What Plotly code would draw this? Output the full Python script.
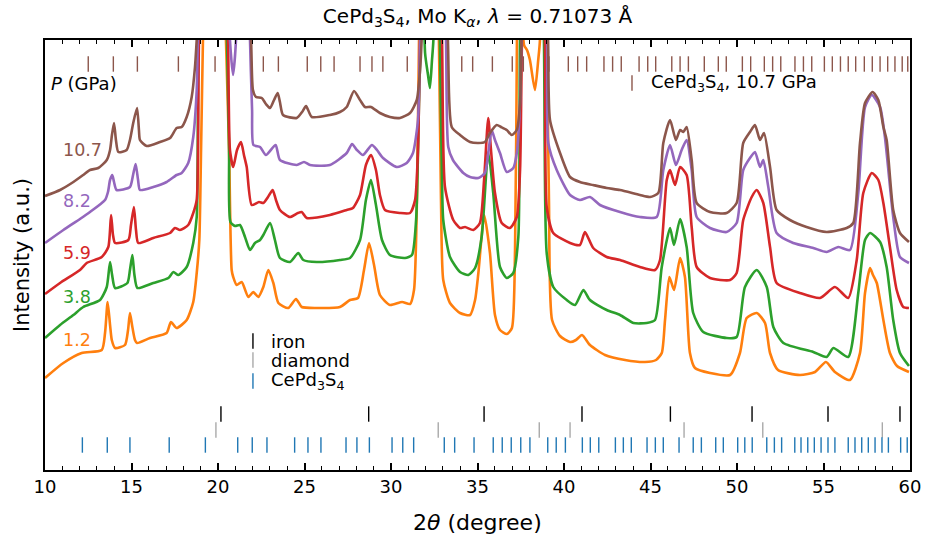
import plotly.graph_objects as go

# ---------------- data (2theta in degree, intensity in arbitrary units) ----------------
tt_12 = [10.00, 11.06, 12.12, 13.28, 13.47, 13.62, 13.76, 13.86, 14.05, 14.62, 14.80, 14.91, 15.03, 15.20, 15.32,
         16.07, 17.03, 17.28, 17.61, 18.19, 18.57, 18.77, 18.92, 19.02, 19.13, 19.71, 20.46, 20.64, 20.79, 20.88,
         21.08, 21.37, 21.75, 22.04, 22.33, 22.62, 22.91, 23.20, 23.49, 24.06, 24.51, 24.84, 25.71, 27.05, 27.63,
         28.09, 28.44, 28.73, 29.02, 29.36, 29.94, 30.64, 31.10, 31.33, 31.50, 31.62, 32.25, 32.77, 32.89, 33.02,
         33.41, 33.99, 34.57, 34.86, 35.05, 35.39, 35.72, 36.01, 36.30, 36.70, 36.99, 37.17, 37.28, 37.51, 37.69,
         37.86, 38.03, 38.32, 38.51, 38.61, 38.84, 39.02, 39.13, 39.31, 39.77, 40.35, 40.69, 41.04, 41.50, 42.37,
         43.53, 44.68, 45.32, 45.65, 45.84, 46.09, 46.36, 46.71, 46.99, 47.28, 47.57, 48.44, 49.60, 50.17, 50.56,
         51.14, 51.62, 51.91, 52.37, 53.64, 54.51, 55.14, 55.66, 56.53, 57.11, 57.40, 57.69, 57.86, 58.08, 58.46,
         58.84, 59.25, 59.94]
int_12 = [92, 107, 117, 120, 137, 168, 145, 130, 122, 125, 140, 157, 145, 130, 127,
          132, 137, 148, 142, 150, 168, 197, 230, 320, 430, 900, 430, 320, 200, 193,
          185, 188, 173, 178, 173, 183, 200, 187, 167, 162, 171, 163, 162, 163, 170,
          172, 200, 227, 205, 175, 165, 168, 166, 180, 270, 430, 900, 430, 270, 190,
          167, 157, 155, 170, 197, 255, 217, 155, 140, 136, 142, 220, 430, 900, 425,
          420, 410, 380, 410, 430, 900, 430, 270, 150, 134, 128, 130, 135, 125, 115,
          110, 108, 110, 117, 150, 193, 180, 212, 193, 117, 102, 97, 95, 117, 152,
          157, 147, 117, 100, 95, 98, 108, 98, 90, 117, 177, 202, 195, 187, 150,
          117, 104, 98]

tt_38 = [10.00, 10.87, 11.64, 12.21, 13.18, 13.57, 13.76, 13.88, 14.05, 14.76, 14.91, 15.05, 15.17, 15.34, 16.26,
         17.13, 17.42, 17.71, 18.19, 18.57, 18.77, 18.87, 19.71, 20.52, 20.64, 20.72, 20.98, 21.27, 21.56, 21.85,
         22.14, 22.43, 22.62, 23.01, 23.29, 23.58, 24.16, 24.64, 24.93, 25.71, 27.05, 27.63, 28.21, 28.55, 28.84,
         29.13, 29.48, 29.94, 30.81, 31.21, 31.45, 31.62, 31.71, 31.79, 31.97, 32.14, 32.25, 32.37, 32.45, 32.66,
         32.83, 32.95, 33.02, 33.41, 33.99, 34.47, 34.86, 35.24, 35.62, 35.91, 36.30, 36.69, 37.07, 37.36, 37.46,
         38.21, 38.84, 39.00, 39.38, 40.16, 40.64, 41.12, 41.50, 42.47, 43.24, 44.01, 44.78, 45.26, 45.65, 46.13,
         46.36, 46.71, 47.09, 47.47, 48.05, 49.41, 49.98, 50.46, 51.14, 51.72, 52.10, 52.68, 54.41, 55.18, 55.57,
         56.43, 57.01, 57.40, 57.69, 58.27, 58.65, 59.03, 59.42, 59.94]
int_38 = [132, 145, 155, 163, 170, 183, 208, 195, 182, 187, 200, 215, 195, 182, 187,
          192, 198, 195, 203, 227, 253, 430, 900, 430, 320, 248, 244, 245, 233, 220,
          227, 230, 235, 247, 230, 212, 208, 217, 210, 208, 210, 212, 230, 270, 290,
          265, 230, 215, 212, 215, 250, 370, 430, 600, 417, 395, 382, 410, 430, 900,
          430, 290, 250, 213, 198, 195, 202, 233, 318, 277, 203, 192, 197, 233, 430,
          900, 430, 217, 183, 170, 165, 180, 170, 160, 155, 147, 147, 150, 203, 242,
          225, 251, 223, 157, 138, 132, 133, 183, 200, 183, 143, 127, 118, 113, 122,
          113, 177, 230, 237, 228, 203, 150, 117, 104]

tt_59 = [10.00, 10.87, 12.02, 12.41, 13.28, 13.66, 13.82, 13.93, 14.05, 14.82, 14.97, 15.14, 15.26, 15.39, 16.26,
         17.23, 17.51, 17.80, 18.28, 18.57, 18.77, 18.90, 19.77, 20.58, 20.69, 20.88, 21.10, 21.33, 21.50, 21.66,
         21.95, 22.37, 22.62, 22.89, 23.16, 23.35, 23.58, 24.16, 24.62, 24.84, 25.13, 26.47, 27.44, 27.80, 28.21,
         28.55, 28.84, 29.13, 29.36, 29.65, 30.52, 31.10, 31.39, 31.56, 31.68, 32.37, 32.95, 33.12, 33.60, 33.99,
         34.28, 34.76, 35.14, 35.38, 35.62, 35.78, 36.01, 36.40, 36.88, 37.27, 37.46, 37.57, 38.27, 38.90, 39.00,
         39.38, 40.35, 40.92, 41.21, 41.69, 42.47, 43.24, 44.39, 45.26, 45.55, 45.94, 46.13, 46.42, 46.71, 47.09,
         47.38, 47.67, 48.44, 49.60, 49.98, 50.36, 50.85, 51.14, 51.52, 51.91, 52.29, 53.64, 54.80, 55.66, 56.43,
         56.92, 57.30, 57.79, 58.17, 58.46, 58.84, 59.23, 59.61, 59.94]
int_59 = [176, 187, 200, 207, 213, 223, 255, 235, 227, 230, 245, 263, 240, 227, 232,
          237, 242, 240, 245, 257, 270, 430, 900, 430, 320, 303, 320, 328, 315, 303,
          265, 268, 267, 273, 280, 270, 260, 253, 257, 258, 252, 255, 260, 262, 275,
          305, 315, 300, 275, 260, 257, 257, 270, 320, 430, 900, 430, 283, 250, 242,
          243, 240, 247, 290, 352, 320, 277, 247, 242, 253, 300, 430, 900, 430, 263,
          237, 227, 225, 238, 222, 213, 210, 203, 200, 210, 290, 300, 285, 303, 295,
          243, 203, 192, 190, 197, 250, 273, 280, 267, 223, 187, 177, 172, 183, 172,
          210, 277, 297, 290, 267, 223, 180, 163, 162]

tt_82 = [10.00, 11.06, 12.02, 12.60, 13.47, 13.64, 13.76, 13.89, 13.99, 14.14, 14.91, 15.09, 15.24, 15.38, 15.49,
         16.26, 17.03, 17.61, 17.90, 18.28, 18.57, 18.77, 18.84, 19.83, 20.69, 20.87, 21.04, 21.45, 21.85, 21.97,
         22.05, 22.43, 22.77, 23.33, 23.58, 24.55, 24.97, 25.32, 26.47, 27.44, 27.75, 28.03, 28.38, 28.90, 29.19,
         29.54, 30.33, 30.91, 31.27, 31.56, 31.68, 32.49, 33.18, 33.31, 33.58, 34.18, 34.57, 35.05, 35.43, 35.61,
         35.82, 36.01, 36.30, 36.69, 37.07, 37.27, 37.46, 37.54, 38.32, 39.02, 39.09, 39.58, 40.35, 40.92, 41.50,
         42.08, 43.24, 44.39, 45.36, 45.74, 46.13, 46.47, 46.80, 47.09, 47.38, 47.67, 48.44, 49.40, 49.98, 50.36,
         50.75, 51.04, 51.33, 51.52, 51.81, 52.29, 53.25, 54.41, 55.18, 55.86, 56.53, 57.01, 57.40, 57.79, 58.27,
         58.55, 59.03, 59.42, 59.94]
int_82 = [227, 240, 251, 258, 270, 278, 290, 295, 288, 280, 283, 295, 306, 290, 280,
          283, 288, 295, 297, 307, 333, 380, 430, 900, 430, 395, 430, 900, 430, 360,
          325, 323, 315, 325, 310, 305, 308, 305, 305, 317, 326, 320, 315, 325, 320,
          312, 303, 307, 317, 350, 430, 900, 430, 323, 310, 297, 293, 292, 297, 315,
          340, 330, 317, 298, 302, 317, 367, 430, 900, 430, 327, 300, 275, 270, 273,
          265, 258, 253, 253, 300, 325, 305, 320, 330, 300, 253, 242, 238, 247, 300,
          312, 318, 303, 310, 283, 237, 227, 222, 218, 223, 220, 277, 363, 375, 363,
          333, 253, 213, 207]

tt_107 = [10.00, 10.87, 11.64, 12.21, 12.60, 13.08, 13.57, 13.76, 13.87, 13.99, 14.10, 14.24, 14.72, 14.91, 15.10,
          15.32, 15.43, 15.49, 15.88, 16.65, 17.23, 17.61, 17.90, 18.19, 18.48, 18.67, 18.77, 20.40, 21.91, 22.02,
          22.20, 22.53, 22.77, 23.01, 23.24, 23.45, 23.58, 23.76, 24.55, 24.86, 25.09, 25.42, 26.47, 27.05, 27.44,
          27.86, 28.21, 28.50, 28.84, 29.36, 29.94, 30.52, 31.10, 31.49, 31.68, 31.77, 32.54, 33.29, 33.51, 33.99,
          34.57, 35.05, 35.43, 35.72, 36.11, 36.36, 36.69, 36.98, 37.27, 37.46, 37.54, 38.32, 39.08, 39.19, 39.77,
          40.35, 40.92, 41.68, 42.47, 43.24, 44.39, 44.97, 45.45, 45.74, 46.13, 46.47, 46.71, 46.90, 47.09, 47.38,
          47.67, 48.44, 49.40, 49.98, 50.36, 50.75, 51.04, 51.33, 51.56, 51.91, 52.29, 53.06, 54.02, 55.18, 56.34,
          56.72, 57.11, 57.40, 57.84, 58.17, 58.46, 58.65, 59.03, 59.42, 59.94]
int_107 = [274, 280, 288, 295, 300, 302, 310, 320, 335, 347, 330, 318, 320, 330, 347,
           362, 340, 330, 324, 328, 332, 342, 343, 353, 373, 403, 430, 900, 430, 380,
           373, 372, 366, 362, 370, 377, 368, 355, 352, 358, 364, 353, 355, 358, 363,
           379, 370, 363, 363, 357, 353, 352, 357, 370, 400, 430, 900, 430, 343, 335,
           328, 327, 328, 337, 345, 343, 340, 335, 340, 367, 430, 900, 430, 350, 317,
           293, 288, 285, 282, 280, 275, 273, 277, 327, 350, 330, 340, 338, 343, 310,
           267, 258, 257, 267, 327, 338, 345, 330, 337, 303, 260, 250, 243, 238, 242,
           247, 327, 367, 378, 370, 343, 330, 260, 237, 228]

pressures = ["1.2", "3.8", "5.9", "8.2", "10.7"]
label_levels = [130, 173, 217, 269, 320]

ticks_cps_107 = [12.50, 13.95, 15.34, 17.71, 19.83, 22.62, 23.49, 25.16, 25.94, 26.71, 28.21, 28.90, 29.53, 30.94,
                 31.60, 34.09, 34.72, 35.86, 37.01, 37.65, 39.13, 40.25, 40.79, 41.31, 42.31, 42.81, 43.31, 44.34,
                 44.84, 45.30, 46.23, 46.71, 47.19, 48.11, 48.92, 49.38, 50.31, 50.79, 51.58, 52.06, 52.53, 53.35,
                 53.84, 54.32, 55.05, 55.51, 55.98, 56.43, 56.86, 57.36, 57.82, 58.27, 58.71, 59.13, 59.55, 59.87]
ticks_iron = [20.17, 28.71, 35.38, 41.04, 46.15, 50.87, 55.26, 59.42]
ticks_diamond = [19.88, 32.73, 38.57, 40.35, 46.94, 51.49, 58.40]
ticks_cps = [12.16, 13.60, 14.91, 17.18, 19.27, 21.14, 21.98, 22.83, 24.43, 25.20, 25.95, 27.40, 28.03, 28.75,
             30.06, 30.68, 31.31, 33.08, 33.68, 34.80, 35.91, 36.43, 36.95, 37.50, 38.03, 39.06, 39.55, 40.08,
             41.06, 41.52, 42.01, 42.97, 43.43, 43.89, 44.80, 45.28, 45.74, 46.65, 47.47, 47.94, 48.77, 49.21,
             50.04, 50.45, 50.88, 51.72, 52.16, 52.58, 53.34, 53.70, 54.09, 54.47, 54.86, 55.26, 55.66, 56.43,
             56.82, 57.21, 57.59, 57.98, 58.38, 58.75, 59.46, 59.84]

legend_names = ["iron", "diamond", "CePd<sub>3</sub>S<sub>4</sub>"]
legend_levels = [129, 110, 89]

# ---------------- styles ----------------
FONT = "DejaVu Sans"
curve_colors = ["#ff7f0e", "#2ca02c", "#d62728", "#9467bd", "#8c564b"]
tick_colors = ["#000000", "#a9a9a9", "#1f77b4"]
BROWN = "#8c564b"
W, H = 927, 543

fig = go.Figure()

def tick_trace(xs, level, color):
    return go.Scatter(x=xs, y=[level] * len(xs), mode="markers", hoverinfo="skip",
                      marker=dict(symbol="line-ns", size=11, color=color,
                                  line=dict(width=1.4, color=color)),
                      showlegend=False)

# reflection tick rows
fig.add_trace(tick_trace(ticks_cps_107, 406, BROWN))
fig.add_trace(tick_trace(ticks_iron, 56, tick_colors[0]))
fig.add_trace(tick_trace(ticks_diamond, 40, tick_colors[1]))
fig.add_trace(tick_trace(ticks_cps, 25, tick_colors[2]))

# patterns
for xs, ys, c in zip([tt_12, tt_38, tt_59, tt_82, tt_107],
                     [int_12, int_38, int_59, int_82, int_107], curve_colors):
    fig.add_trace(go.Scatter(x=xs, y=ys, mode="lines",
                             line=dict(color=c, width=2.6, shape="spline", smoothing=0.6),
                             showlegend=False, hoverinfo="skip"))

# manual legend markers
for lvl, c in zip(legend_levels, tick_colors):
    fig.add_trace(tick_trace([22.02], lvl, c))
# right legend marker
fig.add_trace(tick_trace([43.93], 387, BROWN))

annotations = []
for name, lvl in zip(legend_names, legend_levels):
    annotations.append(dict(x=22.95, y=lvl, xref="x", yref="y", text=name, showarrow=False,
                            xanchor="left", yanchor="middle", font=dict(family=FONT, size=18, color="black")))
for p, lvl, c in zip(pressures, label_levels, curve_colors):
    annotations.append(dict(x=10.95, y=lvl, xref="x", yref="y", text=p, showarrow=False,
                            xanchor="left", yanchor="middle", font=dict(family=FONT, size=17.5, color=c)))
annotations.append(dict(x=10.25, y=387, xref="x", yref="y", text="<i>P</i> (GPa)", showarrow=False,
                        xanchor="left", yanchor="middle", font=dict(family=FONT, size=18, color="black")))
annotations.append(dict(x=44.9, y=387, xref="x", yref="y", text="CePd<sub>3</sub>S<sub>4</sub>, 10.7 GPa",
                        showarrow=False, xanchor="left", yanchor="middle",
                        font=dict(family=FONT, size=18, color="black")))
annotations.append(dict(x=-0.0266, y=0.5, xref="paper", yref="paper", text="Intensity (a.u.)", textangle=-90,
                        showarrow=False, xanchor="center", yanchor="middle",
                        font=dict(family=FONT, size=21, color="black")))
annotations.append(dict(x=0.5, y=-0.121, xref="paper", yref="paper", text="2<i>θ</i> (degree)",
                        showarrow=False, xanchor="center", yanchor="middle",
                        font=dict(family=FONT, size=22, color="black")))

fig.update_layout(
    width=W, height=H,
    margin=dict(l=45, r=17, t=40, b=73),
    plot_bgcolor="white", paper_bgcolor="white",
    font=dict(family=FONT, size=18, color="black"),
    title=dict(text="CePd<sub>3</sub>S<sub>4</sub>, Mo K<sub><i>α</i></sub>, <i>λ</i> = 0.71073 Å",
               x=477.5 / W, xref="container", xanchor="center", y=1 - 16 / H, yref="container",
               yanchor="middle", font=dict(family=FONT, size=20, color="black")),
    annotations=annotations,
    xaxis=dict(range=[10, 60], dtick=5, tick0=10, ticks="inside", ticklen=7, tickwidth=1.5,
               tickcolor="black", showline=True, linecolor="black", linewidth=1.6, mirror="allticks",
               showgrid=False, zeroline=False, tickfont=dict(family=FONT, size=18), automargin=False,
               minor=dict(ticks="inside", dtick=1, ticklen=4, tickwidth=1.2, tickcolor="black", showgrid=False)),
    yaxis=dict(range=[0, 430], showticklabels=False, ticks="", showline=True, linecolor="black",
               linewidth=1.6, mirror=True, showgrid=False, zeroline=False, automargin=False),
)

# remove the browser's default 8 px page margin so the figure fills the window exactly
fig.write_html("out.html", config={"displayModeBar": False},
               post_script="document.body.style.margin='0px';")
